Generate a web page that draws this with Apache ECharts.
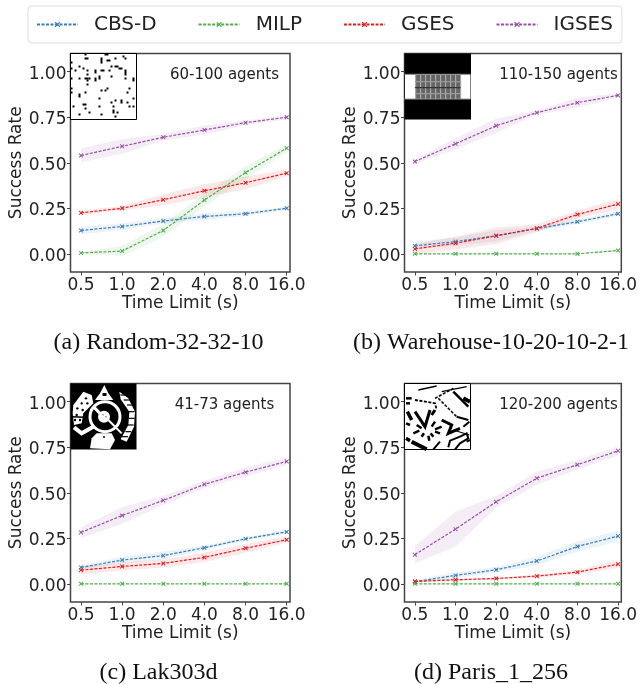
<!DOCTYPE html>
<html><head><meta charset="utf-8">
<style>html,body{margin:0;padding:0;background:#fff}#c{width:640px;height:684px}</style>
<script src="https://cdn.jsdelivr.net/npm/echarts@6/dist/echarts.min.js"></script></head>
<body><div id="c"></div>
<script>
const timeLabels = ['0.5','1.0','2.0','4.0','8.0','16.0'];
const methods = ['CBS-D','MILP','GSES','IGSES'];
const yTicks = [0,0.25,0.5,0.75,1];
// mean success rate per panel
const randomCBS   = [0.128,0.150,0.180,0.205,0.220,0.250];
const randomMILP  = [0.005,0.015,0.128,0.295,0.446,0.580];
const randomGSES  = [0.225,0.250,0.297,0.346,0.390,0.443];
const randomIGSES = [0.540,0.590,0.640,0.680,0.720,0.750];
const wareCBS   = [0.044,0.067,0.099,0.138,0.176,0.220];
const wareMILP  = [0,0,0,0,0,0.018];
const wareGSES  = [0.027,0.058,0.099,0.140,0.216,0.273];
const wareIGSES = [0.507,0.604,0.703,0.775,0.830,0.870];
const lakCBS   = [0.090,0.130,0.155,0.198,0.247,0.285];
const lakMILP  = [0,0,0,0,0,0];
const lakGSES  = [0.075,0.095,0.112,0.145,0.195,0.242];
const lakIGSES = [0.282,0.375,0.458,0.546,0.613,0.672];
const parisCBS   = [0.012,0.046,0.077,0.125,0.205,0.262];
const parisMILP  = [0,0,0,0,0,0];
const parisGSES  = [0.013,0.022,0.029,0.042,0.064,0.108];
const parisIGSES = [0.160,0.300,0.450,0.580,0.654,0.730];
// half width of the shaded band
const randomCBSErr   = [0.022,0.018,0.015,0.018,0.012,0.008];
const randomMILPErr  = [0.006,0.028,0.035,0.035,0.035,0.022];
const randomGSESErr  = [0.012,0.012,0.030,0.035,0.035,0.018];
const randomIGSESErr = [0.038,0.040,0.018,0.025,0.012,0.012];
const wareCBSErr   = [0.022,0.022,0.030,0.012,0.012,0.012];
const wareMILPErr  = [0.003,0.003,0.003,0.003,0.003,0.006];
const wareGSESErr  = [0.028,0.035,0.045,0.022,0.022,0.028];
const wareIGSESErr = [0.012,0.030,0.038,0.012,0.028,0.012];
const lakCBSErr   = [0.012,0.018,0.022,0.012,0.010,0.010];
const lakMILPErr  = [0.003,0.003,0.003,0.003,0.003,0.003];
const lakGSESErr  = [0.022,0.022,0.022,0.025,0.025,0.016];
const lakIGSESErr = [0.030,0.045,0.025,0.020,0.025,0.020];
const parisCBSErr   = [0.010,0.016,0.015,0.025,0.027,0.030];
const parisMILPErr  = [0.003,0.003,0.003,0.003,0.003,0.003];
const parisGSESErr  = [0.006,0.006,0.006,0.009,0.012,0.021];
const parisIGSESErr = [0.048,0.095,0.032,0.036,0.026,0.025];

const panelNames = ['(a) Random-32-32-10','(b) Warehouse-10-20-10-2-1','(c) Lak303d','(d) Paris_1_256'];
const agentNotes = ['60-100 agents','110-150 agents','41-73 agents','120-200 agents'];
const panelData = [
  [randomCBS,randomMILP,randomGSES,randomIGSES],
  [wareCBS,wareMILP,wareGSES,wareIGSES],
  [lakCBS,lakMILP,lakGSES,lakIGSES],
  [parisCBS,parisMILP,parisGSES,parisIGSES]];
const panelErr = [
  [randomCBSErr,randomMILPErr,randomGSESErr,randomIGSESErr],
  [wareCBSErr,wareMILPErr,wareGSESErr,wareIGSESErr],
  [lakCBSErr,lakMILPErr,lakGSESErr,lakIGSESErr],
  [parisCBSErr,parisMILPErr,parisGSESErr,parisIGSESErr]];

const colors = ['#377eb8','#4daf4a','#e41a1c','#984ea3'];
const lefts = [70.5,404.5], tops = [53.5,383.5];
const SANS = '"DejaVu Sans"', SERIF = '"Liberation Serif"';
const X_MARK = 'path://M0 1.5 L1.5 0 L5 3.5 L8.5 0 L10 1.5 L6.5 5 L10 8.5 L8.5 10 L5 6.5 L1.5 10 L0 8.5 L3.5 5 Z';

const grids=[],xAxes=[],yAxes=[],series=[],graphics=[];
panelData.forEach((rows,p)=>{
  const L=lefts[p%2],T=tops[p>>1];
  grids.push({show:true,left:L,top:T,width:219.5,height:218.5,borderColor:'#444',borderWidth:1.5,backgroundColor:'#fff'});
  xAxes.push({type:'value',gridIndex:p,min:-0.255,max:5.08,
    name:'Time Limit (s)',nameLocation:'middle',nameGap:23,nameTextStyle:{fontFamily:SANS,fontSize:17,color:'#222'},
    axisLine:{show:false,onZero:false},splitLine:{show:false},
    axisTick:{show:true,length:3.5,lineStyle:{color:'#444'},customValues:[0,1,2,3,4,5]},
    axisLabel:{margin:5,fontFamily:SANS,fontSize:17,color:'#222',customValues:[0,1,2,3,4,5],formatter:v=>timeLabels[Math.round(v)]}});
  yAxes.push({type:'value',gridIndex:p,min:-0.1,max:1.1,
    name:'Success Rate',nameLocation:'middle',nameGap:41,nameTextStyle:{fontFamily:SANS,fontSize:17,color:'#222'},
    axisLine:{show:false,onZero:false},splitLine:{show:false},
    axisTick:{show:true,length:3.5,lineStyle:{color:'#444'},customValues:yTicks},
    axisLabel:{margin:4,fontFamily:SANS,fontSize:17,color:'#222',customValues:yTicks,
      formatter:v=>'{t|'+v.toFixed(2)+'}',
      rich:{t:{fontFamily:SANS,fontSize:17,color:'#222',padding:[5,0,0,0]}}}});
  rows.forEach((vals,m)=>{
    const err=panelErr[p][m];
    series.push({type:'custom',xAxisIndex:p,yAxisIndex:p,silent:true,z:2,
      data:vals.map((v,i)=>[i,v-err[i],v+err[i]]),
      encode:{x:0,y:[1,2]},
      renderItem:(params,api)=>{
        if(params.dataIndex!==0)return null;
        const up=vals.map((v,i)=>api.coord([i,v+err[i]]));
        const lo=vals.map((v,i)=>api.coord([i,v-err[i]])).reverse();
        return {type:'polygon',shape:{points:up.concat(lo)},style:{fill:colors[m],opacity:0.1}};
      }});
  });
  rows.forEach((vals,m)=>{
    series.push({type:'line',name:methods[m],xAxisIndex:p,yAxisIndex:p,z:3,
      data:vals.map((v,i)=>[i,v]),symbol:X_MARK,symbolSize:4.5,showSymbol:true,
      animation:false,
      lineStyle:{color:colors[m],width:1.2,type:[3,1.5]},itemStyle:{color:colors[m]}});
  });
  graphics.push({type:'text',z:20,style:{x:L+154,y:T+21.5,text:agentNotes[p],
    font:'15px '+SANS,fill:'#222',textAlign:'center',textVerticalAlign:'middle'}});
  graphics.push({type:'text',z:20,style:{x:p%2?491:158.5,y:T+289.5,text:panelNames[p],
    font:'24px '+SERIF,fill:'#111',textAlign:'center',textVerticalAlign:'middle'}});
});

// ---- inset map thumbnails (decoration) ----
const S=66;
function add(o){o.z=10;o.silent=true;graphics.push(o);}
function rect(x,y,w,h,fill){add({type:'rect',shape:{x,y,width:w,height:h},style:{fill}});}
function poly(pts,fill){add({type:'polygon',shape:{points:pts},style:{fill}});}
function line(pts,stroke,w,dash){add({type:'polyline',shape:{points:pts},style:{stroke,lineWidth:w,fill:null,lineDash:dash||null}});}
function ring(cx,cy,r,w,col){add({type:'circle',shape:{cx,cy,r},style:{fill:'none',stroke:col,lineWidth:w}});}
function dot(cx,cy,r,col){add({type:'circle',shape:{cx,cy,r},style:{fill:col}});}

// Random map: obstacle cells [col,row,w,h]
const randomCells=[[7,0,1,1],[7,2,2,1],[17,0,2,1],[18,3,2,1],[15,2,1,3],[26,1,1,1],[27,2,1,1],[22,2,1,1],[20,6,1,1],[22,6,2,1],
[4,6,1,1],[6,7,1,1],[2,8,1,1],[8,8,1,1],[8,10,1,1],[12,8,1,2],[15,8,2,1],[19,8,1,1],[24,7,2,1],[27,8,1,3],
[4,12,1,1],[7,12,2,1],[8,13,1,1],[9,12,1,1],[12,12,1,2],[14,11,1,2],[20,11,1,1],[27,12,1,1],[31,12,1,2],[0,12,1,1],[0,17,1,1],
[8,15,1,1],[18,17,1,1],[15,18,1,1],[17,18,1,1],[29,17,1,1],[28,19,1,1],[0,19,1,1],[4,20,1,2],[7,19,1,1],[14,22,1,1],
[20,24,1,1],[22,23,1,1],[25,23,1,2],[28,24,1,1],[31,22,1,1],[6,25,2,1],[1,26,1,1],[7,27,1,1],[14,26,1,1],[21,26,1,1],
[29,26,1,1],[31,26,1,1],[21,28,1,2],[23,29,1,1],[4,30,1,1],[9,29,1,1],[15,30,1,1],[22,31,1,1],[0,4,1,1],[0,7,1,1]];
(function(){const x=70.5,y=53.5;
 rect(x,y,S,S,'#fff');
 randomCells.forEach(c=>rect(x+c[0]*2,y+c[1]*2,c[2]*2,c[3]*2,'#000'));
 add({type:'rect',shape:{x,y,width:S,height:S},style:{fill:'none',stroke:'#000',lineWidth:1}});
})();
// Warehouse
(function(){const x=404.5,y=53.5;
 rect(x,y,S+0.5,S,'#000');
 rect(x+0.5,y+21,65.5,24.5,'#fff');
 rect(x+10.5,y+21.5,45.5,24,'#666');
 for(let i=0;i<=9;i++)rect(x+10.5+i*5,y+21.5,1.2,24,'#aaa');
 for(let j=1;j<4;j++)rect(x+10.5,y+21.5+j*6,45.5,1.2,j==2?'#333':'#999');
 line([[x,y+20.8],[x+66,y+20.8]],'#999',1);
 line([[x,y+45.5],[x+66,y+45.5]],'#999',1);
})();
// Lak303d (sketched in 3x crop units)
(function(){const x=70.5,y=383.5;
 const z=p=>p.map(q=>[q[0]/3,370+q[1]/3]);
 rect(x,y,S,S,'#000');
 const cx=105,cy=416.7;
 ring(cx,cy,15,3,'#fff');
 dot(cx-1,cy,6,'#fff');
 dot(cx+1,cy,0.8,'#777');dot(cx-2,cy-2,0.8,'#777');
 line(z([[280,110],[300,130]]),'#fff',3);
 line(z([[325,150],[365,190]]),'#fff',2);
 poly(z([[313,45],[325,70],[340,90],[285,90],[300,70]]),'#fff');
 rect(102.5,393,4,3,'#000');
 poly(z([[270,235],[275,205],[290,190],[335,190],[345,210],[330,238]]),'#fff');
 dot(104,437,1,'#000');
 poly(z([[218,130],[220,105],[250,65],[275,75],[280,100],[250,130],[245,160],[222,165]]),'#fff');
 [[232,115],[245,100],[258,85],[230,135],[248,120],[262,100],[225,150],[240,150]].forEach(p=>dot(p[0]/3,370+p[1]/3,1.2,'#000'));
 line(z([[215,140],[255,142]]),'#000',1.5);
 line(z([[222,172],[245,190],[280,170]]),'#fff',4);
 poly(z([[358,65],[385,85],[405,125],[402,170],[380,215],[362,208],[385,165],[388,125],[362,88]]),'#fff');
 [[370,75],[380,90],[390,105],[395,125],[395,145],[392,165],[385,185],[375,200]].forEach(p=>rect(p[0]/3-3,370+p[1]/3-0.6,6,1.2,'#000'));
})();
// Paris (sketched in 3x crop units)
(function(){const x=404.5,y=383.5,k='#000';
 const z=p=>p.map(q=>[320+q[0]/3,370+q[1]/3]);
 rect(x,y,S,S,'#fff');
 const L=(p,w,d)=>line(z(p),k,w,d);
 L([[295,60],[350,48]],1.5);
 L([[345,85],[400,55]],1.6,[3,1.5]);
 L([[365,65],[440,50]],1.2);
 L([[400,65],[445,110]],2.5);
 L([[430,85],[450,95]],4);
 L([[258,85],[275,85]],2.5);
 L([[258,100],[270,100]],2.5);
 L([[285,90],[345,100],[350,120]],1.8,[3,1.5]);
 L([[355,85],[410,140]],1.5,[3,1.5]);
 L([[262,125],[275,150]],3.5);
 L([[285,125],[315,170],[330,120]],3);
 L([[345,120],[335,135]],3);
 L([[258,160],[270,165]],2.5);
 [[[290,165],[305,175]],[[345,155],[335,170]],[[365,170],[345,178]],[[360,190],[345,185]],[[340,200],[332,190]],[[328,212],[325,197]],[[305,200],[312,190]],[[280,190],[298,182]]].forEach(a=>L(a,2.5));
 L([[365,150],[395,165],[385,190],[420,175]],3);
 L([[410,140],[445,150]],2);
 L([[430,170],[448,155]],2);
 L([[400,180],[448,195]],1.2);
 L([[258,205],[270,212]],3.5);
 L([[275,215],[320,238]],4);
 L([[340,238],[360,215]],2);
 L([[385,232],[390,212],[420,200],[440,190],[445,205],[420,220],[405,238]],2);
 L([[440,215],[450,210]],2);
 add({type:'rect',shape:{x,y,width:S,height:S},style:{fill:'none',stroke:'#000',lineWidth:1}});
})();

const chart=echarts.init(document.getElementById('c'),null,{renderer:'canvas'});
chart.setOption({
  animation:false,
  backgroundColor:'#fff',
  grid:grids,xAxis:xAxes,yAxis:yAxes,series,
  graphic:{elements:graphics},
  legend:{data:methods,left:28,top:6,orient:'horizontal',
    padding:[8.5,9,8.5,8],itemGap:41,itemWidth:41,itemHeight:7,
    borderColor:'#ddd',borderWidth:1,borderRadius:4,selectedMode:false,
    textStyle:{fontFamily:SANS,fontSize:20,color:'#222',padding:[0,0,0,11]}}
});
</script></body></html>
